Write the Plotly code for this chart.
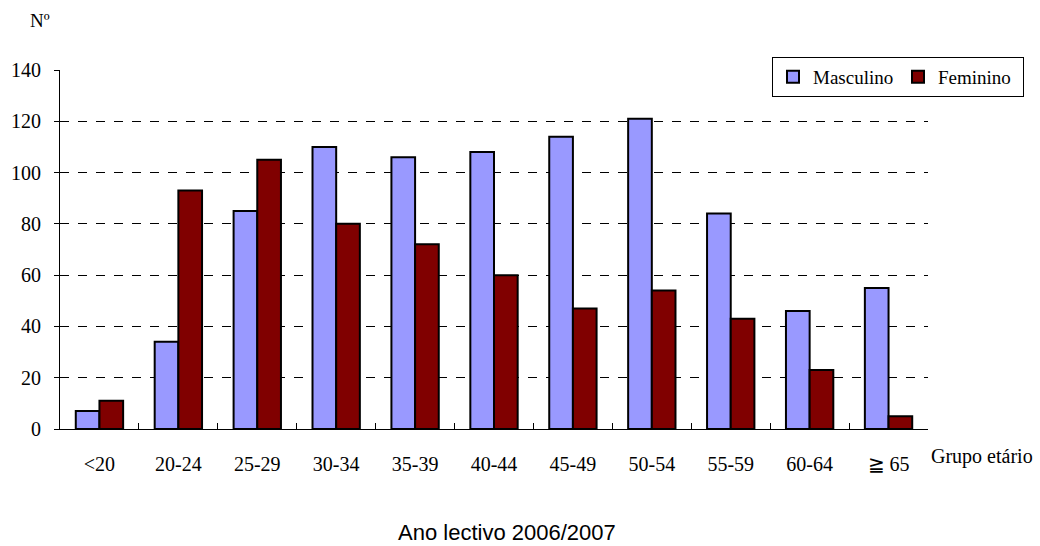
import plotly.graph_objects as go

categories = ["<20", "20-24", "25-29", "30-34", "35-39", "40-44", "45-49", "50-54", "55-59", "60-64", "≧ 65"]
masculino = [7, 34, 85, 110, 106, 108, 114, 121, 84, 46, 55]
feminino = [11, 93, 105, 80, 72, 60, 47, 54, 43, 23, 5]
y_ticks = [0, 20, 40, 60, 80, 100, 120, 140]

serif = "Liberation Serif, Times New Roman, serif"

L, R, T, B = 60, 928, 70, 429
W, H = R - L, B - T


def px(x):
    return (x - L) / W


def py(y):
    return (B - y) / H


fig = go.Figure()
fig.add_trace(go.Bar(x=categories, y=masculino, name="Masculino",
                     marker=dict(color="#9999FF", line=dict(color="black", width=2))))
fig.add_trace(go.Bar(x=categories, y=feminino, name="Feminino",
                     marker=dict(color="#800000", line=dict(color="black", width=2))))

fig.update_layout(
    width=1040, height=546,
    margin=dict(l=L, r=1040 - R, t=T, b=546 - B, autoexpand=False),
    paper_bgcolor="white", plot_bgcolor="white",
    barmode="group", bargap=0.40, bargroupgap=0,
    font=dict(family=serif, size=20, color="black"),
    showlegend=True,
    legend=dict(orientation="h", xref="paper", yref="paper",
                x=px(772), y=py(57), xanchor="left", yanchor="top",
                bordercolor="black", borderwidth=1, bgcolor="white",
                font=dict(family=serif, size=19), itemwidth=30,
                entrywidth=80, tracegroupgap=0),
    xaxis=dict(showline=True, linecolor="black", linewidth=1,
               ticks="inside", tickson="boundaries", ticklen=6, tickcolor="black",
               ticklabelstandoff=17, showgrid=False,
               tickfont=dict(family=serif, size=20)),
    yaxis=dict(range=[0, 140], tickvals=y_ticks, showline=True, linecolor="black",
               linewidth=1, ticks="outside", ticklen=5, tickcolor="black",
               showgrid=True, gridcolor="black", griddash="dash", gridwidth=1,
               zeroline=False, tickfont=dict(family=serif, size=20),
               ticklabelstandoff=9),
    annotations=[
        dict(text="Nº", xref="paper", yref="paper", x=px(40), y=py(20),
             xanchor="center", yanchor="middle", showarrow=False,
             font=dict(family=serif, size=19)),
        dict(text="Grupo etário", xref="paper", yref="paper",
             x=px(929), y=py(456), xanchor="left", yanchor="middle",
             showarrow=False, font=dict(family=serif, size=20)),
        dict(text="Ano lectivo 2006/2007", xref="paper", yref="paper",
             x=px(507), y=py(532), xanchor="center", yanchor="middle",
             showarrow=False, font=dict(family="Liberation Sans, Arial, sans-serif", size=22)),
    ],
)

fig.write_html("out.html", config={"displayModeBar": False},
               post_script="document.body.style.margin='0px';document.body.style.overflow='hidden';")
